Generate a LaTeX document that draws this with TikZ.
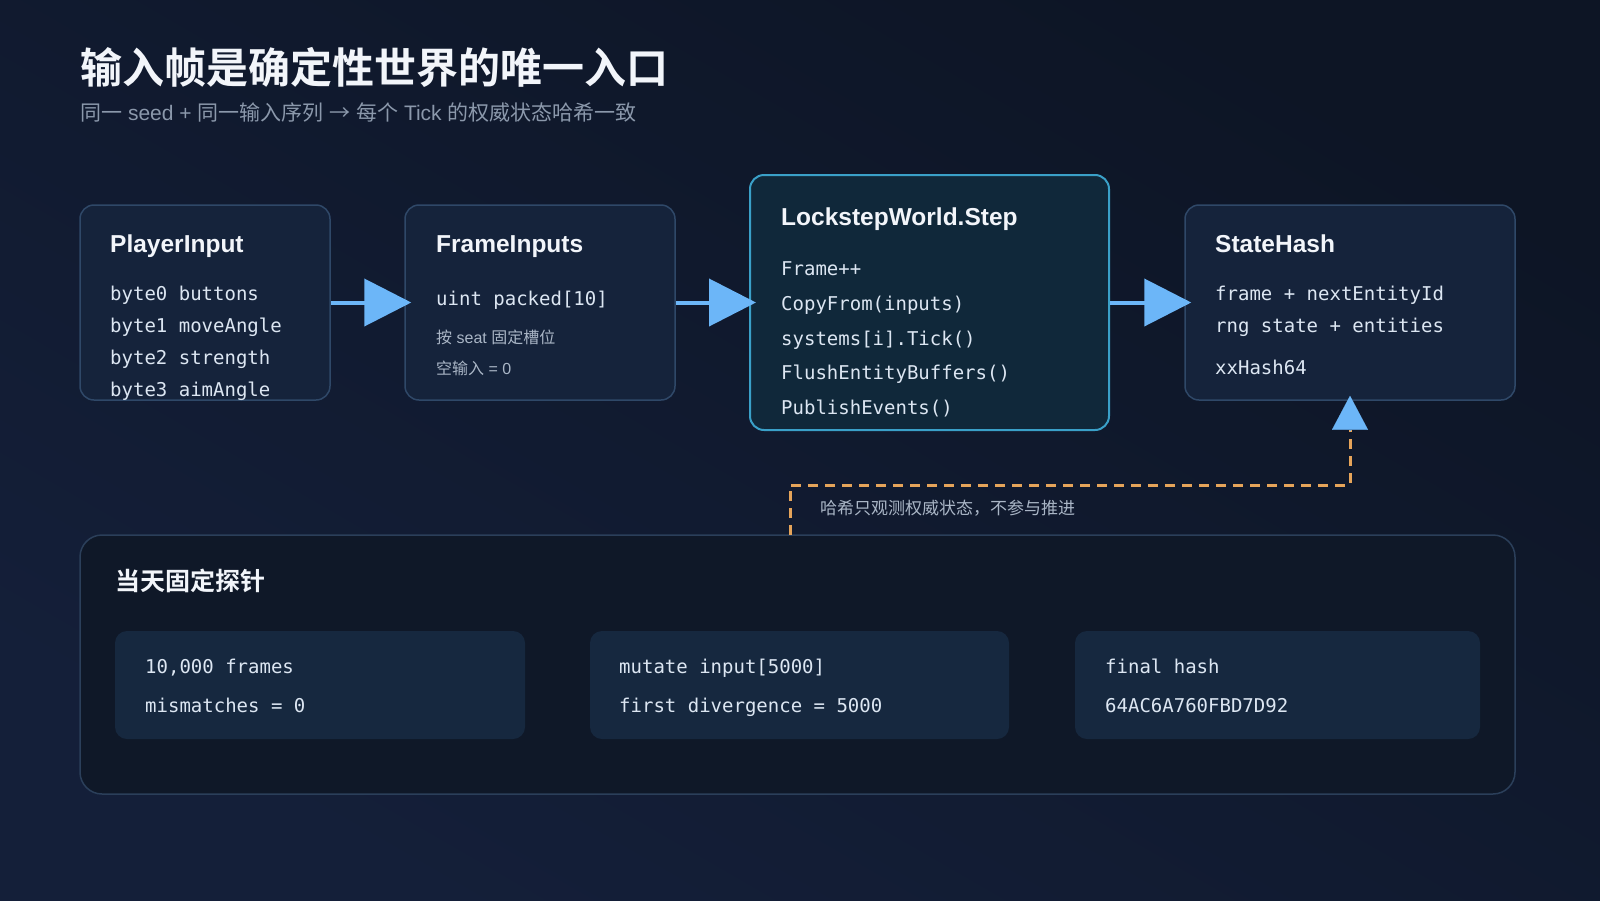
\documentclass[tikz,border=0pt]{standalone}
\usepackage{fontspec}
\setmainfont{Liberation Sans}
\setmonofont{DejaVu Sans Mono}
\newfontfamily\cjk{Noto Sans CJK SC}
\newfontfamily\cjkb{Noto Sans CJK SC Bold}
\newfontfamily\lat{Liberation Sans}
\usetikzlibrary{arrows.meta}
\newcommand\myfs[1]{\fontsize{#1}{#1}\selectfont}
\definecolor{bgA}{HTML}{0D1525}
\definecolor{bgB}{HTML}{141F39}
\definecolor{boxfill}{HTML}{15233B}
\definecolor{boxline}{HTML}{2F4868}
\definecolor{stepfill}{HTML}{10283A}
\definecolor{stepline}{HTML}{3AA0C8}
\definecolor{panelfill}{HTML}{0F1828}
\definecolor{panelline}{HTML}{2B3F5A}
\definecolor{cardfill}{HTML}{16283F}
\definecolor{txtwhite}{HTML}{F2F5FA}
\definecolor{txtmono}{HTML}{DCE6F2}
\definecolor{txtgray}{HTML}{8B98AB}
\definecolor{txtlight}{HTML}{AAB6C6}
\definecolor{arrowblue}{HTML}{6CB6F8}
\definecolor{dashorange}{HTML}{E5A45A}
\tikzset{
  box/.style={draw=boxline, line width=1.5pt, fill=boxfill, rounded corners=14pt, inner sep=0pt},
  stepbox/.style={draw=stepline, line width=2pt, fill=stepfill, rounded corners=14pt, inner sep=0pt},
  panelbox/.style={draw=panelline, line width=1.5pt, fill=panelfill, rounded corners=22pt, inner sep=0pt},
  cardbox/.style={fill=cardfill, rounded corners=12pt, inner sep=0pt, minimum height=108pt},
  txt/.style={anchor=base west, inner sep=0pt},
  boxtitle/.style={txt, text=txtwhite, font=\myfs{24.5}\bfseries},
  mono/.style={txt, text=txtmono, font=\myfs{19}\ttfamily},
  smallcn/.style={txt, text=txtlight, font=\myfs{16}\cjk},
  flow/.style={draw=arrowblue, line width=4pt, -{Triangle[length=47pt,width=47pt]}, shorten >=-7pt},
}
\begin{document}
\begin{tikzpicture}[x=1pt, y=-1pt]
\useasboundingbox (0,0) rectangle (1600,900);
\shade[top color=bgA, bottom color=bgB, shading angle=-30] (0,0) rectangle (1600,900);

% title
\node[txt, text=txtwhite, font=\myfs{42}\cjkb] (title) at (80,83) {输入帧是确定性世界的唯一入口};
\node[txt, text=txtgray, font=\myfs{21}\cjk] (subtitle) at (80,120) {同一{\lat\ seed + }同一输入序列{\lat\ }→{\lat\ }每个{\lat\ Tick }的权威状态哈希一致};

% boxes
\node[box, minimum width=250pt, minimum height=195pt] (pi) at (205,302.5) {};
\node[box, minimum width=270pt, minimum height=195pt] (fi) at (540,302.5) {};
\node[stepbox, minimum width=359pt, minimum height=255pt] (ls) at (929.5,302.5) {};
\node[box, minimum width=330pt, minimum height=195pt] (sh) at (1350,302.5) {};

% PlayerInput
\node[boxtitle] (piT) at (110,252) {PlayerInput};
\node[mono] (pi1) at (110,300) {byte0 buttons};
\node[mono] (pi2) at (110,332) {byte1 moveAngle};
\node[mono] (pi3) at (110,364) {byte2 strength};
\node[mono] (pi4) at (110,396) {byte3 aimAngle};

% FrameInputs
\node[boxtitle] (fiT) at (436,252) {FrameInputs};
\node[mono] (fi1) at (436,305) {uint packed[10]};
\node[smallcn] (fi2) at (436,343) {按{\lat\ seat }固定槽位};
\node[smallcn] (fi3) at (436,374) {空输入{\lat\ = 0}};

% LockstepWorld.Step
\node[boxtitle] (lsT) at (781,225) {LockstepWorld.Step};
\node[mono] (ls1) at (781,275) {Frame++};
\node[mono] (ls2) at (781,310) {CopyFrom(inputs)};
\node[mono] (ls3) at (781,345) {systems[i].Tick()};
\node[mono] (ls4) at (781,379) {FlushEntityBuffers()};
\node[mono] (ls5) at (781,414) {PublishEvents()};

% StateHash
\node[boxtitle] (shT) at (1215,252) {StateHash};
\node[mono] (sh1) at (1215,300) {frame + nextEntityId};
\node[mono] (sh2) at (1215,332) {rng state + entities};
\node[mono] (sh3) at (1215,374) {xxHash64};

% flow arrows
\draw[flow] (pi.east) -- (fi.west);
\draw[flow] (fi.east) -- (ls.west);
\draw[flow] (ls.east) -- (sh.west);

% bottom panel
\node[panelbox, minimum width=1435pt, minimum height=259pt] (panel) at (797.5,664.5) {};
\node[txt, text=txtwhite, font=\myfs{25}\cjkb] (panelT) at (115,590) {当天固定探针};
\node[cardbox, minimum width=410pt] (c1) at (320,685) {};
\node[cardbox, minimum width=419pt] (c2) at (799.5,685) {};
\node[cardbox, minimum width=405pt] (c3) at (1277.5,685) {};
\node[mono] (c1a) at (145,673) {10,000 frames};
\node[mono] (c1b) at (145,712) {mismatches = 0};
\node[mono] (c2a) at (619,673) {mutate input[5000]};
\node[mono] (c2b) at (619,712) {first divergence = 5000};
\node[mono] (c3a) at (1105,673) {final hash};
\node[mono] (c3b) at (1105,712) {64AC6A760FBD7D92};

% dashed observation link
\coordinate (dstart) at (790,535);
\coordinate (dk1) at (790,485);
\coordinate (dk2) at (1350,485);
\coordinate (tipbase) at (1350,430);
\draw[dashorange, line width=3pt, dash pattern=on 10pt off 7pt] (dstart) -- (dk1) -- (dk2) -- (tipbase);
\draw[arrowblue, line width=0.1pt, -{Triangle[length=34pt,width=36pt]}, shorten >=-5pt] (tipbase) -- (sh.south);
\node[txt, text=txtlight, font=\myfs{17}\cjk] (obs) at (820,514) {哈希只观测权威状态，不参与推进};
\end{tikzpicture}
\end{document}
